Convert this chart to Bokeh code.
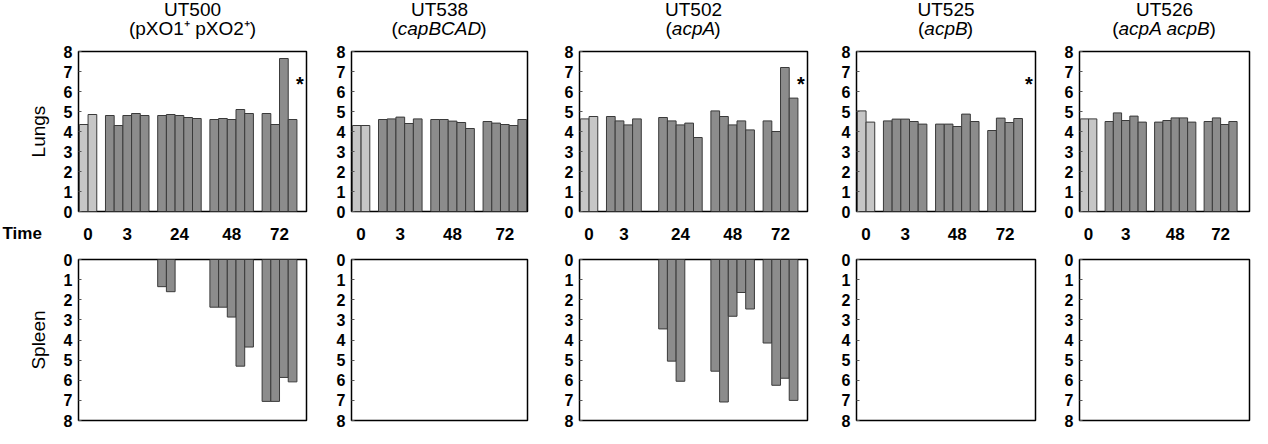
from bokeh.plotting import figure
from bokeh.layouts import row, column
from bokeh.models import Range1d, FixedTicker, ColumnDataSource, Label
from bokeh.core.properties import value
from bokeh.embed import file_html
from bokeh.resources import INLINE

FONT = "Liberation Sans"

# ---------------- data ----------------
strains = ["UT500", "UT538", "UT502", "UT525", "UT526"]
genotype_text = ["pXO1\u207a pXO2\u207a", "capBCAD", "acpA", "acpB", "acpA acpB"]
genotype_italic = [False, True, True, True, True]

time_labels = [
    ["0", "3", "24", "48", "72"],
    ["0", "3", "48", "72"],
    ["0", "3", "24", "48", "72"],
    ["0", "3", "48", "72"],
    ["0", "3", "48", "72"],
]

# lung log10 counts, one list per time point
ut500_lungs = [[4.35, 4.85], [4.8, 4.3, 4.8, 4.9, 4.8], [4.8, 4.85, 4.8, 4.7, 4.65],
               [4.6, 4.65, 4.6, 5.1, 4.9], [4.9, 4.35, 7.65, 4.6]]
ut538_lungs = [[4.3, 4.3], [4.6, 4.63, 4.72, 4.4, 4.63], [4.6, 4.6, 4.52, 4.45, 4.15],
               [4.5, 4.42, 4.35, 4.3, 4.6]]
ut502_lungs = [[4.63, 4.75], [4.75, 4.53, 4.33, 4.63], [4.7, 4.53, 4.33, 4.42, 3.7],
               [5.03, 4.75, 4.33, 4.53, 4.08], [4.53, 4.0, 7.2, 5.67]]
ut525_lungs = [[5.03, 4.47], [4.53, 4.62, 4.62, 4.5, 4.37], [4.37, 4.37, 4.25, 4.87, 4.5],
               [4.05, 4.67, 4.45, 4.65]]
ut526_lungs = [[4.63, 4.63], [4.5, 4.93, 4.55, 4.77, 4.47], [4.47, 4.55, 4.68, 4.68, 4.47],
               [4.5, 4.68, 4.35, 4.5]]

# spleen log10 counts (0 = none detected)
ut500_spleen = [[0, 0], [0, 0, 0, 0, 0], [1.35, 1.6, 0, 0, 0],
                [2.37, 2.37, 2.86, 5.3, 4.35], [7.05, 7.05, 5.86, 6.08]]
ut538_spleen = []
ut502_spleen = [[0, 0], [0, 0, 0, 0], [3.45, 5.05, 6.05, 0, 0],
                [5.55, 7.08, 2.82, 1.64, 2.46], [4.15, 6.25, 5.9, 7.0]]
ut525_spleen = []
ut526_spleen = []

lungs = [ut500_lungs, ut538_lungs, ut502_lungs, ut525_lungs, ut526_lungs]
spleen = [ut500_spleen, ut538_spleen, ut502_spleen, ut525_spleen, ut526_spleen]
significant = [True, False, True, True, False]

# ---------------- layout / style ----------------
frame_w = [228, 176, 228, 179, 170]
border_l = [78, 35, 42, 39, 34]
border_r = [10, 10, 10, 10, 3]
x_end = [26.1, 20.1, 26.1, 20.5, 20.5]
X0 = -0.1
group_cap = [2, 5, 5, 5, 5]
LIGHT = "#c6c6c6"
MID = "#8c8c8c"
EDGE = "#3a3a3a"

HEAD_H = 43
LUNG_BT, LUNG_H, LUNG_BB = 8, 160, 10
TIME_H = 31
SPL_BT, SPL_H, SPL_BB = 7, 161, 8

char_w = {"a": .556, "c": .5, "p": .556, "A": .667, "B": .667, "C": .722, "D": .722, " ": .278}
TITLE_SIZE = 19


def starts_for(n):
    s, out = 0, []
    for k in range(n):
        out.append(s)
        s += group_cap[k] + 1
    return out


def style_y(p):
    p.yaxis.ticker = FixedTicker(ticks=list(range(9)))
    p.yaxis.axis_line_color = None
    p.yaxis.major_tick_in = 3
    p.yaxis.major_tick_out = 0
    p.yaxis.major_tick_line_color = "#555555"
    p.yaxis.minor_tick_line_color = None
    p.yaxis.major_label_text_font = FONT
    p.yaxis.major_label_text_font_style = "bold"
    p.yaxis.major_label_text_font_size = "16px"
    p.yaxis.major_label_text_color = "black"
    p.yaxis.major_label_standoff = 6
    p.yaxis.axis_label_text_font = FONT
    p.yaxis.axis_label_text_font_style = "normal"
    p.yaxis.axis_label_text_font_size = "19px"
    p.yaxis.axis_label_text_color = "black"
    p.yaxis.axis_label_standoff = 12
    p.xgrid.visible = False
    p.ygrid.visible = False
    p.outline_line_color = "black"
    p.outline_line_width = 1.5
    p.background_fill_color = "white"
    p.border_fill_color = "white"


def strip(i, height):
    """A text strip spanning the whole width of column i, aligned with its data x scale."""
    ppu = frame_w[i] / (x_end[i] - X0)
    s = figure(frame_width=border_l[i] + frame_w[i] + border_r[i], frame_height=height,
               x_range=Range1d(X0 - border_l[i] / ppu, x_end[i] + border_r[i] / ppu),
               y_range=Range1d(0, height),
               min_border_left=0, min_border_right=0, min_border_top=0, min_border_bottom=0,
               x_axis_location=None, y_axis_location=None,
               toolbar_location=None, tools="", output_backend="svg")
    s.xgrid.visible = False
    s.ygrid.visible = False
    s.outline_line_color = None
    s.background_fill_color = "white"
    s.border_fill_color = "white"
    return s, ppu


heads, tops, times, bottoms = [], [], [], []
for i in range(5):
    ng = len(time_labels[i])
    st = starts_for(ng)
    xc = (X0 + x_end[i]) / 2

    # ---- header (titles) ----
    h, ppu = strip(i, HEAD_H)
    tfs = value(f"{TITLE_SIZE}px")
    h.text(x=[xc], y=[HEAD_H - 9], text=[strains[i]], text_font=value(FONT),
           text_font_size=tfs, text_align="center", text_baseline="middle", text_color="black")
    y2 = HEAD_H - 28
    if genotype_italic[i]:
        w = sum(char_w.get(c, .556) for c in genotype_text[i]) * TITLE_SIZE
        h.text(x=[xc], y=[y2], text=["("], x_offset=-w / 2, text_font=value(FONT),
               text_font_size=tfs, text_align="right", text_baseline="middle", text_color="black")
        h.text(x=[xc], y=[y2], text=[genotype_text[i]], text_font=value(FONT),
               text_font_style="italic", text_font_size=tfs, text_align="center",
               text_baseline="middle", text_color="black")
        h.text(x=[xc], y=[y2], text=[")"], x_offset=w / 2 - 1, text_font=value(FONT),
               text_font_size=tfs, text_align="left", text_baseline="middle", text_color="black")
    else:
        h.text(x=[xc], y=[y2], text=["(" + genotype_text[i] + ")"], text_font=value(FONT),
               text_font_size=tfs, text_align="center", text_baseline="middle", text_color="black")
    heads.append(h)

    # ---- lungs ----
    xs, tv, cols = [], [], []
    for k, vals in enumerate(lungs[i]):
        for j, v in enumerate(vals):
            xs.append(st[k] + j + 0.5)
            tv.append(v)
            cols.append(LIGHT if k == 0 else MID)
    src = ColumnDataSource(dict(x=xs, top=tv, color=cols))

    p = figure(frame_width=frame_w[i], frame_height=LUNG_H,
               x_range=Range1d(X0, x_end[i]), y_range=Range1d(0, 8),
               min_border_left=border_l[i], min_border_right=border_r[i],
               min_border_top=LUNG_BT, min_border_bottom=LUNG_BB, x_axis_location=None,
               toolbar_location=None, tools="", output_backend="svg")
    p.vbar(x="x", top="top", bottom=0, width=1.0, source=src,
           fill_color="color", line_color=EDGE, line_width=1)
    style_y(p)
    if i == 0:
        p.yaxis.axis_label = "Lungs"
    if significant[i]:
        p.add_layout(Label(x=x_end[i] - 0.75, y=6.4, text="*", text_font=FONT,
                           text_font_style="bold", text_font_size="20px",
                           text_color="black",
                           text_align="center", text_baseline="middle"))
    tops.append(p)

    # ---- time labels ----
    t, ppu = strip(i, TIME_H)
    tick_pos = [st[k] + len(lungs[i][k]) / 2 for k in range(ng)]
    ty = TIME_H - 12
    t.text(x=tick_pos, y=[ty] * ng, text=time_labels[i], text_font=value(FONT),
           text_font_style="bold", text_font_size=value("17px"), text_align="center",
           text_baseline="middle", text_color="black")
    if i == 0:
        t.text(x=[X0 - (border_l[i] - 2) / ppu], y=[ty], text=["Time"], text_font=value(FONT),
               text_font_style="bold", text_font_size=value("17px"), text_align="left",
               text_baseline="middle", text_color="black")
    times.append(t)

    # ---- spleen ----
    q = figure(frame_width=frame_w[i], frame_height=SPL_H,
               x_range=Range1d(X0, x_end[i]), y_range=Range1d(8, 0),
               min_border_left=border_l[i], min_border_right=border_r[i],
               min_border_top=SPL_BT, min_border_bottom=SPL_BB, x_axis_location=None,
               toolbar_location=None, tools="", output_backend="svg")
    sx, sv = [], []
    for k, vals in enumerate(spleen[i]):
        for j, v in enumerate(vals):
            if v > 0:
                sx.append(st[k] + j + 0.5)
                sv.append(v)
    if sx:
        q.vbar(x=sx, top=0, bottom=sv, width=1.0, fill_color=MID,
               line_color=EDGE, line_width=1)
    else:
        q.scatter(x=[0], y=[0], alpha=0)
    style_y(q)
    if i == 0:
        q.yaxis.axis_label = "Spleen"
    bottoms.append(q)

layout = column(row(*heads), row(*tops), row(*times), row(*bottoms))
open("out.html", "w").write(file_html(layout, INLINE))
